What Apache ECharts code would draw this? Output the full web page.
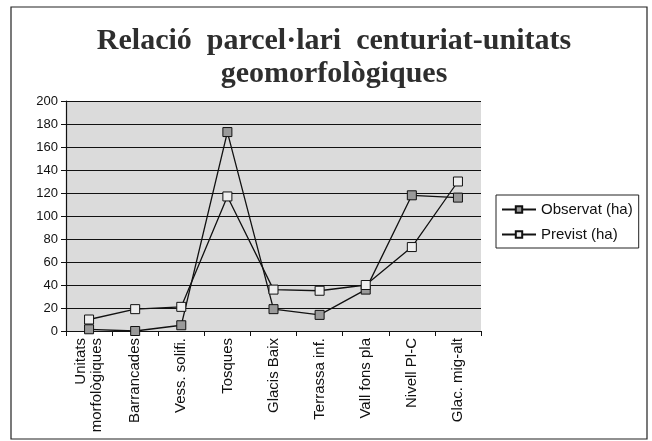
<!DOCTYPE html>
<html>
<head>
<meta charset="utf-8">
<script src="https://cdn.jsdelivr.net/npm/echarts@6/dist/echarts.min.js"></script>
<style>html,body{margin:0;padding:0;background:#fff}#c{width:652px;height:441px}</style>
</head>
<body>
<div id="c"></div>
<script>
var categories = ['Unitats\nmorfològiques', 'Barrancades', 'Vess. solifi.', 'Tosques', 'Glacis Baix', 'Terrassa inf.', 'Vall fons pla', 'Nivell Pl-C', 'Glac. mig-alt'];
var observat = [1.5, 0, 5, 173, 19, 14, 36, 118, 116];
var previst = [10, 19, 21, 117, 36, 35, 40, 73, 130];
var seriesNames = ['Observat (ha)', 'Previst (ha)'];
var titleLines = ['Relació  parcel·lari  centuriat-unitats', 'geomorfològiques'];

var chart = echarts.init(document.getElementById('c'), null, {renderer: 'canvas'});
var sans = 'Liberation Sans';
chart.setOption({
  animation: false,
  backgroundColor: '#ffffff',
  title: {
    text: titleLines.join('\n'),
    left: 329, top: 20, textAlign: 'center',
    textStyle: {fontFamily: 'Liberation Serif', fontWeight: 'bold', fontSize: 30, color: '#2e2e2e', lineHeight: 33}
  },
  graphic: [{
    type: 'rect', shape: {x: 11, y: 7, width: 636, height: 432},
    style: {fill: 'none', stroke: '#222', lineWidth: 1.2}, z: 0
  }],
  grid: {left: 66, right: 171, top: 101, bottom: 110, show: true, backgroundColor: '#dbdbdb', borderColor: '#aaa', borderWidth: 0},
  legend: {
    orient: 'vertical', left: 496, top: 195,
    padding: [7, 6, 6, 5], itemGap: 10, itemWidth: 34, itemHeight: 8,
    borderColor: '#222', borderWidth: 1,
    textStyle: {fontFamily: sans, fontSize: 15, color: '#111'},
    data: seriesNames
  },
  xAxis: {
    type: 'category', data: categories, boundaryGap: true,
    axisLine: {lineStyle: {color: '#111', width: 1.2}},
    axisTick: {show: true, length: 5, lineStyle: {color: '#111'}},
    axisLabel: {rotate: 90, interval: 0, fontFamily: sans, fontSize: 15, color: '#111', margin: 7, lineHeight: 16}
  },
  yAxis: {
    type: 'value', min: 0, max: 200, interval: 20,
    axisLine: {show: true, lineStyle: {color: '#111', width: 1.2}},
    axisTick: {show: true, length: 5, lineStyle: {color: '#111'}},
    axisLabel: {fontFamily: sans, fontSize: 13, color: '#111', margin: 8},
    splitLine: {show: true, lineStyle: {color: '#111', width: 1}}
  },
  series: [{
    name: seriesNames[0], type: 'line', data: observat,
    symbol: 'rect', symbolSize: 9,
    lineStyle: {color: '#111', width: 1.3},
    itemStyle: {color: '#9a9a9a', borderColor: '#111', borderWidth: 1}
  }, {
    name: seriesNames[1], type: 'line', data: previst,
    symbol: 'rect', symbolSize: 9,
    lineStyle: {color: '#111', width: 1.3},
    itemStyle: {color: '#eeeeee', borderColor: '#111', borderWidth: 1}
  }]
});
</script>
</body>
</html>
